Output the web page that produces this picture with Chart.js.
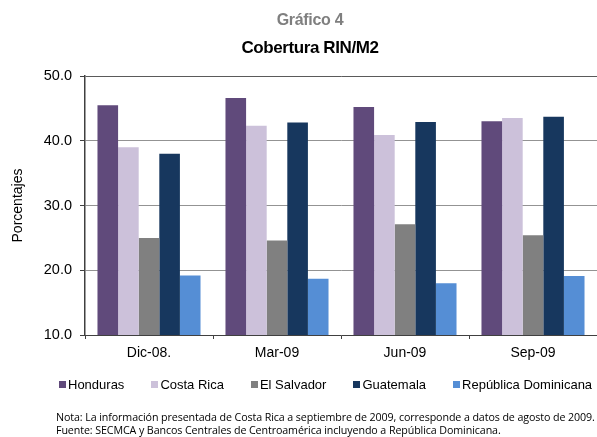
<!DOCTYPE html>
<html lang="es">
<head>
<meta charset="utf-8">
<script src="https://cdn.jsdelivr.net/npm/chart.js@4.4.1/dist/chart.umd.min.js"></script>
<style>
    html, body { margin: 0; padding: 0; background: #fff; }
    #wrap { position: relative; width: 597px; height: 437px; font-family: 'Liberation Sans', Arial, sans-serif; }
    #wrap canvas { position: absolute; left: 0; top: 0; }
    .txt { position: absolute; white-space: nowrap; }
    #sup { left: 0; width: 620px; top: 11px; text-align: center; font-size: 16px; font-weight: bold; color: #7f7f7f; letter-spacing: -0.3px; }
    #tit { left: 0; width: 620px; top: 38px; text-align: center; font-size: 17px; font-weight: bold; color: #000; letter-spacing: -0.4px; }
    #legend { position: absolute; left: 59px; top: 377px; display: flex; gap: 27px; font-size: 13px; color: #000; }
    #legend span.item { display: flex; align-items: center; }
    #legend i { display: inline-block; width: 7px; height: 7px; margin-right: 2px; }
    #notes { left: 56px; top: 411px; font-family: 'Open Sans', sans-serif; font-size: 10.7px; line-height: 13px; color: #000; letter-spacing: -0.1px; }
</style>
</head>
<body>
<div id="wrap">
    <canvas id="rinChart"></canvas>
    <div class="txt" id="sup">Gráfico 4</div>
    <div class="txt" id="tit">Cobertura RIN/M2</div>
    <div id="legend"></div>
    <div class="txt" id="notes">Nota: La información presentada de Costa Rica a septiembre de 2009, corresponde a datos de agosto de 2009.<br>Fuente: SECMCA y Bancos Centrales de Centroamérica incluyendo a República Dominicana.</div>
</div>
<script>
const categories = ['Dic-08.', 'Mar-09', 'Jun-09', 'Sep-09'];
const seriesNames = ['Honduras', 'Costa Rica', 'El Salvador', 'Guatemala', 'República Dominicana'];
const seriesColors = ['#604a7b', '#ccc1da', '#808080', '#17375e', '#558ed5'];

const honduras = [45.5, 46.6, 45.2, 43.0];
const costaRica = [39.0, 42.3, 40.9, 43.5];
const elSalvador = [25.0, 24.6, 27.1, 25.4];
const guatemala = [38.0, 42.8, 42.9, 43.7];
const repDominicana = [19.2, 18.7, 18.0, 19.1];

const yMin = 10;
const yMax = 50;
const yStep = 10;

const seriesValues = [honduras, costaRica, elSalvador, guatemala, repDominicana];

const canvas = document.getElementById('rinChart');
canvas.width = 597;
canvas.height = 437;

const datasets = seriesNames.map(function (name, i) {
    return {
        label: name,
        data: seriesValues[i],
        backgroundColor: seriesColors[i],
        borderWidth: 0,
        categoryPercentage: 0.805,
        barPercentage: 1.0
    };
});

// legend as html, built from the same series
const legendEl = document.getElementById('legend');
seriesNames.forEach(function (name, i) {
    const item = document.createElement('span');
    item.className = 'item';
    const box = document.createElement('i');
    box.style.background = seriesColors[i];
    item.appendChild(box);
    item.appendChild(document.createTextNode(name));
    legendEl.appendChild(item);
});

Chart.defaults.font.family = "'Liberation Sans', Arial, sans-serif";
Chart.defaults.color = '#000';

new Chart(canvas, {
    type: 'bar',
    data: { labels: categories, datasets: datasets },
    options: {
        responsive: false,
        animation: false,
        layout: { padding: { top: 76, left: 0, right: 0, bottom: 0 } },
        plugins: { legend: { display: false }, title: { display: false }, tooltip: { enabled: false } },
        scales: {
            x: {
                offset: true,
                grid: { offset: true, drawOnChartArea: false, drawTicks: true, tickLength: 4, tickColor: '#404040', tickWidth: 1 },
                border: { color: '#404040', width: 1 },
                ticks: { padding: 6, font: { size: 14 }, color: '#000' },
                afterFit: function (scale) { scale.height = 102; }
            },
            y: {
                min: yMin,
                max: yMax,
                grid: {
                    display: true,
                    drawOnChartArea: true,
                    color: function (ctx) { return ctx.tick && ctx.tick.value === yMax ? '#5a5a5a' : '#939393'; },
                    lineWidth: 1,
                    tickLength: 5,
                    tickColor: '#404040'
                },
                border: { color: '#404040', width: 1.5 },
                ticks: { stepSize: yStep, padding: 8, font: { size: 14.5 }, color: '#000', callback: function (v) { return Number(v).toFixed(1); } },
                title: { display: true, text: 'Porcentajes', font: { size: 14 }, color: '#000', padding: { top: 10, bottom: 0 } },
                afterFit: function (scale) { scale.width = 85; }
            }
        }
    }
});
</script>
</body>
</html>
